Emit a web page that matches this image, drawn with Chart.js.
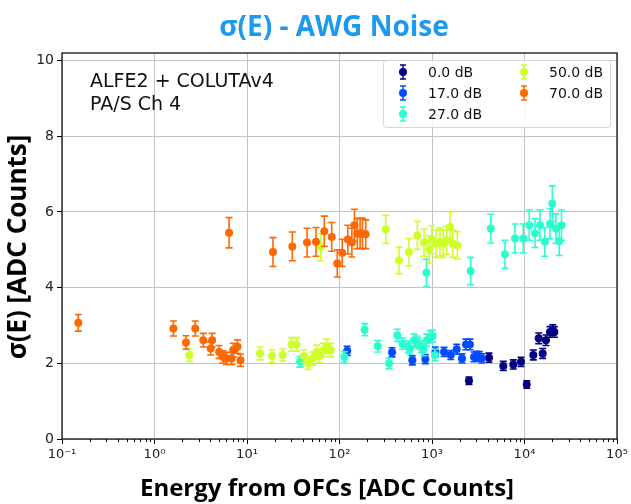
<!DOCTYPE html>
<html>
<head>
<meta charset="utf-8">
<script src="https://cdn.jsdelivr.net/npm/chart.js@4"></script>
<style>
  html, body { margin: 0; padding: 0; background: #fff; }
  #wrap { width: 631px; height: 504px; }
</style>
</head>
<body>
<div id="wrap"><canvas id="noiseChart" width="631" height="504"></canvas></div>
<script>
// series labels + colours (jet colormap samples)
const seriesLabels = ['0.0 dB', '17.0 dB', '27.0 dB', '50.0 dB', '70.0 dB'];
const seriesColors = ['#000080', '#004dff', '#29ffce', '#ceff29', '#ff6800'];

// 0.0 dB
const e0 = [2510, 4130, 5900, 7570, 9170, 10570, 12450, 14250, 15730, 17060, 18870, 20170, 21000];
const s0 = [1.54, 2.15, 1.93, 1.97, 2.04, 1.44, 2.22, 2.66, 2.26, 2.61, 2.83, 2.88, 2.83];
const err0 = [0.1, 0.12, 0.12, 0.12, 0.12, 0.1, 0.13, 0.14, 0.13, 0.14, 0.14, 0.14, 0.14];

// 17.0 dB
const e17 = [121, 370, 613, 847, 1087, 1349, 1594, 1849, 2110, 2330, 2573, 2846, 3040, 3245, 3444];
const s17 = [2.33, 2.29, 2.08, 2.11, 2.30, 2.30, 2.22, 2.37, 2.13, 2.50, 2.50, 2.17, 2.19, 2.19, 2.13];
const err17 = [0.12, 0.12, 0.12, 0.12, 0.13, 0.12, 0.12, 0.13, 0.12, 0.14, 0.14, 0.13, 0.13, 0.12, 0.12];

// 27.0 dB
const e27 = [37.4, 113, 187, 259, 343, 422, 479, 555, 578, 639, 683, 713, 775, 805, 877, 951, 1016, 1077,
             871, 2617, 4315, 6150, 7890, 9700, 11270, 13000, 14700, 16600, 18870, 19960, 21870, 23770, 25150];
const s27 = [2.04, 2.17, 2.89, 2.45, 2.0, 2.74, 2.52, 2.44, 2.39, 2.61, 2.57, 2.52, 2.44, 2.35, 2.61, 2.70, 2.72, 2.22,
             4.39, 4.44, 5.56, 4.88, 5.30, 5.30, 5.65, 5.44, 5.65, 5.21, 5.69, 6.22, 5.56, 5.23, 5.65];
const err27 = [0.14, 0.14, 0.16, 0.15, 0.14, 0.16, 0.15, 0.15, 0.15, 0.16, 0.15, 0.15, 0.15, 0.15, 0.16, 0.16, 0.16, 0.15,
               0.36, 0.36, 0.38, 0.37, 0.38, 0.38, 0.4, 0.38, 0.4, 0.38, 0.4, 0.47, 0.39, 0.38, 0.4];

// 50.0 dB
const e50 = [2.38, 13.8, 18.6, 24.3, 30.4, 34.4, 41.3, 45.9, 50.8, 56.6, 60.5, 66.8, 72.7, 80.4,
             62.7, 316, 440, 564, 693, 820, 935, 993, 1104, 1220, 1325, 1442, 1566, 1674, 1878];
const s50 = [2.22, 2.26, 2.19, 2.22, 2.50, 2.50, 2.19, 2.0, 2.13, 2.30, 2.19, 2.35, 2.45, 2.35,
             5.07, 5.54, 4.72, 4.94, 5.38, 5.19, 5.01, 5.27, 5.16, 5.21, 5.16, 5.25, 5.60, 5.16, 5.12];
const err50 = [0.17, 0.17, 0.16, 0.16, 0.18, 0.18, 0.17, 0.16, 0.17, 0.18, 0.17, 0.18, 0.19, 0.18,
               0.36, 0.37, 0.35, 0.36, 0.37, 0.36, 0.36, 0.37, 0.36, 0.37, 0.36, 0.37, 0.4, 0.36, 0.36];

// 70.0 dB
const e70 = [0.15, 1.6, 2.19, 2.76, 3.37, 4.2, 4.05, 5.0, 5.5, 6.0, 6.8, 7.1, 7.9, 8.5,
             6.4, 19.1, 30.9, 44.6, 55.7, 68.5, 82.4, 94.6, 107, 123, 136, 145, 156, 167, 177, 192];
const s70 = [3.07, 2.92, 2.55, 2.92, 2.61, 2.61, 2.39, 2.30, 2.17, 2.13, 2.13, 2.35, 2.44, 2.08,
             5.45, 4.94, 5.09, 5.19, 5.21, 5.49, 5.34, 4.64, 4.92, 5.27, 5.19, 5.65, 5.43, 5.43, 5.43, 5.41];
const err70 = [0.22, 0.2, 0.18, 0.2, 0.18, 0.18, 0.17, 0.17, 0.16, 0.16, 0.16, 0.18, 0.18, 0.16,
               0.4, 0.38, 0.38, 0.38, 0.38, 0.4, 0.38, 0.36, 0.36, 0.38, 0.38, 0.42, 0.4, 0.4, 0.4, 0.38];

const xTicksMajor = [0.1, 1, 10, 100, 1000, 10000, 100000];
const yTicks = [0, 2, 4, 6, 8, 10];
const noteLines = ['ALFE2 + COLUTAv4', 'PA/S Ch 4'];
const chartTitle = 'σ(E) - AWG Noise';
const xTitle = 'Energy from OFCs [ADC Counts]';
const yTitle = 'σ(E) [ADC Counts]';

const allE = [e0, e17, e27, e50, e70];
const allS = [s0, s17, s27, s50, s70];
const allErr = [err0, err17, err27, err50, err70];

function isMajor(v) {
    const l = Math.log10(v);
    return Math.abs(l - Math.round(l)) < 1e-9;
}

function supLabel(v) {
    const map = { '-': '⁻', '0': '⁰', '1': '¹', '2': '²', '3': '³', '4': '⁴', '5': '⁵', '6': '⁶', '7': '⁷', '8': '⁸', '9': '⁹' };
    const p = String(Math.round(Math.log10(v)));
    return '10' + p.split('').map(c => map[c]).join('');
}

// error bars, drawn just before each dataset's markers
const errorBars = {
    id: 'errorBars',
    beforeDatasetDraw(chart, args) {
        const i = args.index;
        const ctx = chart.ctx;
        const xs = chart.scales.x, ys = chart.scales.y;
        ctx.save();
        ctx.strokeStyle = seriesColors[i];
        ctx.lineWidth = 1.6;
        allE[i].forEach((e, k) => {
            const x = xs.getPixelForValue(e);
            const y1 = ys.getPixelForValue(allS[i][k] - allErr[i][k]);
            const y2 = ys.getPixelForValue(allS[i][k] + allErr[i][k]);
            ctx.beginPath();
            ctx.moveTo(x, y1); ctx.lineTo(x, y2);
            ctx.moveTo(x - 3.5, y1); ctx.lineTo(x + 3.5, y1);
            ctx.moveTo(x - 3.5, y2); ctx.lineTo(x + 3.5, y2);
            ctx.stroke();
        });
        ctx.restore();
    }
};

// frame, minor ticks, note text, legend box, titles
const decorations = {
    id: 'decorations',
    afterDraw(chart) {
        const ctx = chart.ctx;
        const a = chart.chartArea;
        const xs = chart.scales.x;
        ctx.save();

        // minor ticks on bottom axis
        ctx.strokeStyle = '#000';
        ctx.lineWidth = 1;
        xs.ticks.forEach(t => {
            if (isMajor(t.value)) return;
            const x = Math.round(xs.getPixelForValue(t.value)) + 0.5;
            ctx.beginPath();
            ctx.moveTo(x, a.bottom);
            ctx.lineTo(x, a.bottom + 3);
            ctx.stroke();
        });

        // frame
        ctx.lineWidth = 1.2;
        ctx.strokeRect(a.left, a.top, a.right - a.left, a.bottom - a.top);

        // note
        ctx.fillStyle = '#111';
        ctx.font = '19px "DejaVu Sans"';
        ctx.textAlign = 'left';
        ctx.textBaseline = 'alphabetic';
        ctx.fillText(noteLines[0], 90, 87);
        ctx.fillText(noteLines[1], 90, 110);

        // legend
        const bx = 383, by = 60, bw = 227, bh = 67;
        ctx.fillStyle = 'rgba(255,255,255,0.8)';
        ctx.strokeStyle = '#d6d6d6';
        ctx.lineWidth = 1;
        ctx.beginPath();
        ctx.roundRect(bx + 0.5, by + 0.5, bw, bh, 3);
        ctx.fill();
        ctx.stroke();
        const cols = [[403, 428], [524, 549]];
        const rows = [72, 93, 114];
        ctx.font = '14px "DejaVu Sans"';
        ctx.textBaseline = 'middle';
        seriesLabels.forEach((lab, i) => {
            const c = i < 3 ? 0 : 1;
            const r = i < 3 ? i : i - 3;
            const mx = cols[c][0], my = rows[r];
            ctx.strokeStyle = seriesColors[i];
            ctx.fillStyle = seriesColors[i];
            ctx.lineWidth = 1.5;
            ctx.beginPath();
            ctx.moveTo(mx, my - 7); ctx.lineTo(mx, my + 7);
            ctx.moveTo(mx - 3, my - 7); ctx.lineTo(mx + 3, my - 7);
            ctx.moveTo(mx - 3, my + 7); ctx.lineTo(mx + 3, my + 7);
            ctx.stroke();
            ctx.beginPath();
            ctx.arc(mx, my, 4, 0, Math.PI * 2);
            ctx.fill();
            ctx.fillStyle = '#111';
            ctx.fillText(lab, cols[c][1], my + 1);
        });

        // chart title
        ctx.fillStyle = '#1b9af0';
        ctx.font = 'bold 28px "Open Sans"';
        ctx.textAlign = 'center';
        ctx.textBaseline = 'middle';
        ctx.fillText(chartTitle, 334, 28);

        // axis titles
        ctx.fillStyle = '#000';
        ctx.font = 'bold 24px "Open Sans"';
        ctx.fillText(xTitle, 327, 489);
        ctx.translate(19, 247);
        ctx.rotate(-Math.PI / 2);
        ctx.font = 'bold 26px "Open Sans"';
        ctx.fillText(yTitle, 0, 0);
        ctx.restore();
    }
};

function buildChart() {
    const ctx = document.getElementById('noiseChart').getContext('2d');
    const datasets = seriesLabels.map((lab, i) => ({
        label: lab,
        data: allE[i].map((e, k) => ({ x: e, y: allS[i][k] })),
        backgroundColor: seriesColors[i],
        borderColor: seriesColors[i],
        pointRadius: 4,
        pointBorderWidth: 0,
        showLine: false,
        order: seriesLabels.length - 1 - i
    }));

    new Chart(ctx, {
        type: 'scatter',
        data: { datasets: datasets },
        options: {
            responsive: false,
            animation: false,
            events: [],
            layout: { padding: { top: 53, right: 14, left: 0, bottom: 0 } },
            plugins: {
                legend: { display: false },
                tooltip: { enabled: false },
                title: { display: false }
            },
            scales: {
                x: {
                    type: 'logarithmic',
                    min: 0.1,
                    max: 100000,
                    afterFit(scale) { scale.height = 65; },
                    afterBuildTicks(scale) {
                        const t = [];
                        for (let p = -1; p < 5; p++) {
                            for (let m = 1; m < 10; m++) t.push({ value: m * Math.pow(10, p) });
                        }
                        t.push({ value: 100000 });
                        scale.ticks = t;
                    },
                    grid: {
                        color: c => (c.tick && isMajor(c.tick.value)) ? '#c4c4c4' : 'rgba(0,0,0,0)',
                        tickColor: c => (c.tick && isMajor(c.tick.value)) ? '#000' : 'rgba(0,0,0,0)',
                        tickLength: 5,
                        lineWidth: 1
                    },
                    border: { display: false },
                    ticks: {
                        autoSkip: false,
                        maxRotation: 0,
                        padding: 3,
                        color: '#222',
                        font: { family: 'DejaVu Sans', size: 13 },
                        callback: v => xTicksMajor.some(m => Math.abs(m - v) / m < 1e-9) ? supLabel(v) : ''
                    }
                },
                y: {
                    min: 0,
                    max: 10.2,
                    afterFit(scale) { scale.width = 62; },
                    afterBuildTicks(scale) {
                        scale.ticks = yTicks.map(v => ({ value: v }));
                    },
                    grid: {
                        color: '#c4c4c4',
                        tickColor: '#000',
                        tickLength: 5,
                        lineWidth: 1
                    },
                    border: { display: false },
                    ticks: {
                        padding: 3,
                        color: '#222',
                        font: { family: 'DejaVu Sans', size: 14 }
                    }
                }
            }
        },
        plugins: [errorBars, decorations]
    });
}

buildChart();
</script>
</body>
</html>
